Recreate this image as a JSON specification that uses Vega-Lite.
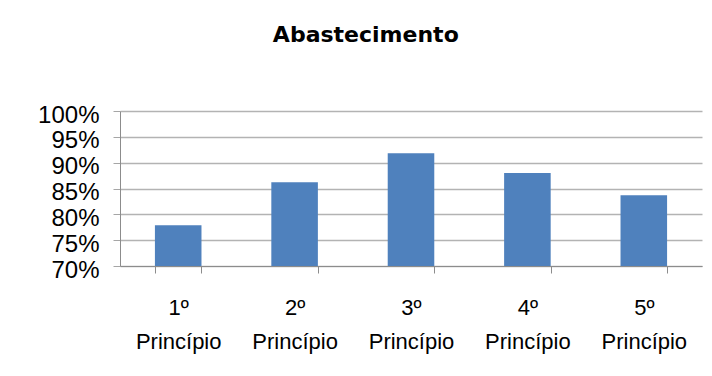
{
  "$schema": "https://vega.github.io/schema/vega-lite/v6.json",
  "autosize": {"type": "none"},
  "width": 582,
  "height": 155,
  "padding": {"left": 120, "top": 111, "right": 10, "bottom": 110},
  "background": "white",
  "title": {
    "text": "Abastecimento",
    "font": "DejaVu Sans",
    "fontSize": 22,
    "fontWeight": "bold",
    "color": "black",
    "anchor": "middle",
    "frame": "bounds",
    "dx": -4,
    "offset": 56
  },
  "data": {
    "values": [
      {"principio": "1º Princípio", "abastecimento": 0.779},
      {"principio": "2º Princípio", "abastecimento": 0.862},
      {"principio": "3º Princípio", "abastecimento": 0.918},
      {"principio": "4º Princípio", "abastecimento": 0.880},
      {"principio": "5º Princípio", "abastecimento": 0.837}
    ]
  },
  "mark": {"type": "bar", "color": "#4F81BD"},
  "encoding": {
    "x": {
      "field": "principio",
      "type": "nominal",
      "sort": null,
      "scale": {"paddingInner": 0.6, "paddingOuter": 0.3},
      "axis": {
        "title": null,
        "labelAngle": 0,
        "labelExpr": "split(datum.label, ' ')",
        "labelFont": "Liberation Sans",
        "labelFontSize": 22,
        "labelColor": "black",
        "labelLineHeight": 34,
        "labelPadding": 24,
        "tickBand": "extent",
        "tickSize": 7,
        "tickColor": "#8c8c8c",
        "domainColor": "#8c8c8c",
        "grid": false
      }
    },
    "y": {
      "field": "abastecimento",
      "type": "quantitative",
      "scale": {"domain": [0.7, 1.0], "nice": false, "zero": false},
      "axis": {
        "title": null,
        "format": ".0%",
        "values": [0.7, 0.75, 0.8, 0.85, 0.9, 0.95, 1.0],
        "labelFont": "Liberation Sans",
        "labelFontSize": 24,
        "labelColor": "black",
        "labelOverlap": false,
        "labelPadding": 14,
        "labelOffset": 4,
        "tickSize": 7,
        "tickColor": "#a6a6a6",
        "domainColor": "#8c8c8c",
        "gridColor": "#b3b3b3",
        "gridWidth": 1.5
      }
    },
    "y2": {"datum": 0.7}
  },
  "config": {"view": {"stroke": null}}
}
